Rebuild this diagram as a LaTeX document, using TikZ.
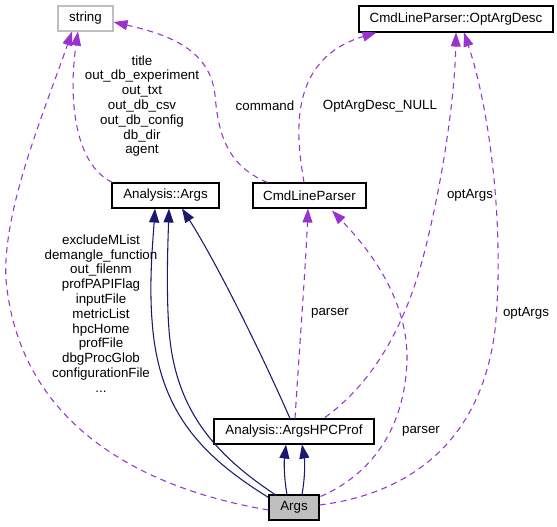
\documentclass[tikz,border=0pt]{standalone}
\usepackage{fontspec}
\setmainfont{Liberation Sans}
\usetikzlibrary{arrows.meta,calc}
\definecolor{edgeblue}{HTML}{191970}
\definecolor{edgepurple}{HTML}{9A32CD}
\definecolor{boxgray}{HTML}{BFBFBF}
\begin{document}
\begin{tikzpicture}[x=0.75pt, y=-0.75pt,
		cls/.style={draw=black, line width=0.8pt, inner sep=0pt, minimum height=18.75pt, font=\fontsize{10}{12}\selectfont},
		inh/.style={draw=edgeblue, line width=0.8pt, -{Triangle[length=10.5pt,width=7.5pt]}},
		member/.style={draw=edgepurple, line width=0.8pt, dash pattern=on 4.5pt off 3.5pt, -{Triangle[length=10.5pt,width=7.5pt]}},
		lbl/.style={align=center, inner sep=0pt, font=\fontsize{10}{11.1}\selectfont}]
		\useasboundingbox (0,0) rectangle (557,527);
		% classes
		\node[cls, draw=boxgray, minimum width=41.25pt] (string) at (85.5,18.5) {string};
		\node[cls, minimum width=145.5pt, minimum height=19.5pt] (optdesc) at (456,19) {CmdLineParser::OptArgDesc};
		\node[cls, minimum width=80.25pt] (aargs) at (165.5,195.5) {Analysis::Args};
		\node[cls, minimum width=84.75pt] (parser) at (309.5,195.5) {CmdLineParser};
		\node[cls, minimum width=120pt] (hpcprof) at (294,431.5) {Analysis::ArgsHPCProf};
		\node[cls, fill=boxgray, minimum width=37.5pt] (args) at (294,507.5) {Args};
		% inheritance
		\draw[inh] ($(args.north)+(-7,0)$) .. controls (284,478) and (284,462) .. ($(hpcprof.south)+(-8,0)$);
		\draw[inh] ($(args.north)+(8,0)$) .. controls (305,478) and (305,462) .. ($(hpcprof.south)+(8,0)$);
		\draw[inh] ($(args.north west)+(0,3)$) .. controls (200,455) and (158,410) .. (152,320) .. controls (149,280) and (153,240) .. ($(aargs.south)+(-10.5,0)$);
		\draw[inh] ($(args.north west)+(8,1)$) .. controls (215,455) and (175,410) .. (169,330) .. controls (166,290) and (168,240) .. ($(aargs.south)+(3.5,0)$);
		\draw[inh] ($(hpcprof.north)+(-4,0)$) .. controls (260,350) and (215,260) .. ($(aargs.south)+(16.5,0)$);
		% members
		\draw[member] ($(aargs.north west)+(1,0)$) .. controls (75,165) and (68,100) .. ($(string.south)+(-7.5,0)$);
		\draw[member] ($(args.west)+(0,2.5)$) .. controls (150,490) and (20,430) .. (6,280) .. controls (2,210) and (45,110) .. ($(string.south)+(-13.5,0)$);
		\draw[member] ($(parser.north west)+(15,0)$) .. controls (225,165) and (218,130) .. (215,95) .. controls (210,50) and (170,35) .. ($(string.east)+(0,3.5)$);
		\draw[member] ($(parser.north)+(-5.5,0)$) .. controls (297,140) and (285,60) .. ($(optdesc.south west)+(18,0)$);
		\draw[member] ($(hpcprof.north)+(1,0)$) .. controls (300,340) and (306,260) .. ($(parser.south)+(-1.5,0)$);
		\draw[member] ($(args.north east)+(1,2)$) .. controls (370,475) and (405,430) .. (407,360) .. controls (408,300) and (370,250) .. ($(parser.south)+(22.5,2)$);
		\draw[member] ($(hpcprof.north)+(31,-1)$) .. controls (370,385) and (405,330) .. (425,250) .. controls (445,170) and (455,90) .. ($(optdesc.south)+(0,0)$);
		\draw[member] ($(args.east)+(0,-2.5)$) .. controls (400,495) and (480,450) .. (495,330) .. controls (505,230) and (490,110) .. ($(optdesc.south)+(8,0)$);
		% labels
		\node[lbl] (lblaargs) at (142,106) {title\\out\_db\_experiment\\out\_txt\\out\_db\_csv\\out\_db\_config\\db\_dir\\agent};
		\node[lbl] (lblargs) at (101,313.5) {excludeMList\\demangle\_function\\out\_filenm\\profPAPIFlag\\inputFile\\metricList\\hpcHome\\profFile\\dbgProcGlob\\configurationFile\\...};
		\node[lbl] (lblcommand) at (265,106) {command};
		\node[lbl] (lblnull) at (380,106) {OptArgDesc\_NULL};
		\node[lbl] (lbloptone) at (470,195) {optArgs};
		\node[lbl] (lbllopttwo) at (526,313) {optArgs};
		\node[lbl] (lblparserone) at (330,313) {parser};
		\node[lbl] (lblparsertwo) at (421,431) {parser};
	\end{tikzpicture}
\end{document}
